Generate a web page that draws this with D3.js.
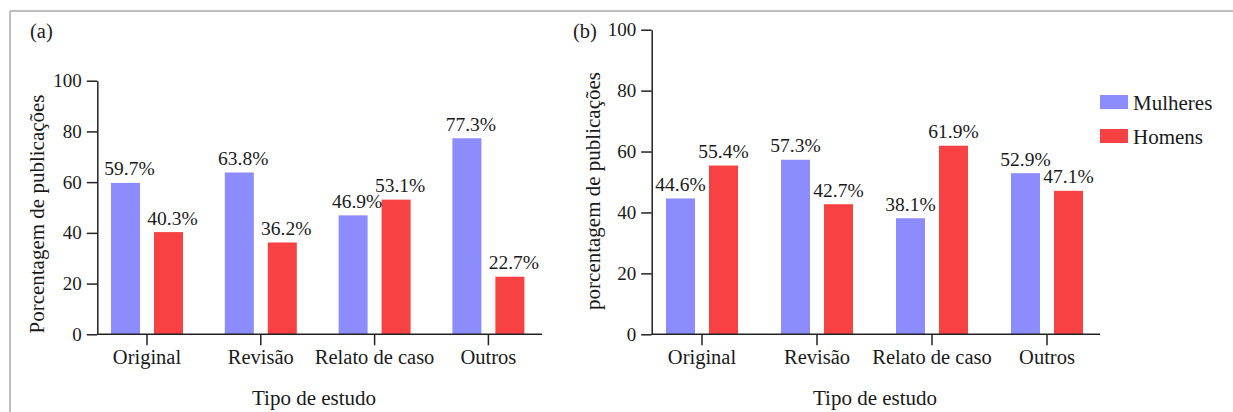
<!DOCTYPE html>
<html>
<head>
<meta charset="utf-8">
<script src="https://cdn.jsdelivr.net/npm/d3@7"></script>
<style>
  body { margin: 0; background: #fff; }
  svg { display: block; }
  svg text { font-family: 'Liberation Serif', 'DejaVu Serif', serif !important; fill: #1a1a1a; }
</style>
</head>
<body>
<svg id="chart" width="1233" height="412"></svg>
<script>
// ---- data ----
const categories = ["Original", "Revisão", "Relato de caso", "Outros"];
const seriesNames = ["Mulheres", "Homens"];
const mulheresA = [59.7, 63.8, 46.9, 77.3];
const homensA   = [40.3, 36.2, 53.1, 22.7];
const mulheresB = [44.6, 57.3, 38.1, 52.9];
const homensB   = [55.4, 42.7, 61.9, 47.1];
const yTicks = [0, 20, 40, 60, 80, 100];
const panelTags = ["(a)", "(b)"];
const yTitles = ["Porcentagem de publicações", "porcentagem de publicações"];
const xTitle = "Tipo de estudo";

const colors = { "Mulheres": "#8c8cfe", "Homens": "#f84142" };
const FONT = "'Liberation Serif', 'DejaVu Serif', serif";

const svg = d3.select("#chart").attr("font-family", FONT);

// frame
svg.append("line").attr("x1", 10).attr("x2", 1233).attr("y1", 11).attr("y2", 11)
  .attr("stroke", "#a8a8a8").attr("stroke-width", 1.5);
svg.append("line").attr("x1", 10).attr("x2", 10).attr("y1", 11).attr("y2", 412)
  .attr("stroke", "#a8a8a8").attr("stroke-width", 1.5);

const panels = [
  { tag: panelTags[0], tagX: 30, yTitle: yTitles[0], yTitleX: 44, yTitleY: 214,
    axisX: 97.3, axisEnd: 542, xRange: [90.1, 545.3], yRange: [334.3, 80.7],
    xTitleX: 314, labelDx: 4, m: mulheresA, h: homensA },
  { tag: panelTags[1], tagX: 573, yTitle: yTitles[1], yTitleX: 600, yTitleY: 191,
    axisX: 651.7, axisEnd: 1100, xRange: [644.5, 1104.5], yRange: [334.3, 29.7],
    xTitleX: 875, labelDx: 0, m: mulheresB, h: homensB }
];

panels.forEach(p => {
  const g = svg.append("g");
  const x = d3.scaleBand().domain(categories).range(p.xRange).padding(0);
  const inner = d3.scaleBand().domain(seriesNames).range([-36, 36]).paddingInner(14 / 43);
  const y = d3.scaleLinear().domain([0, 100]).range(p.yRange);

  const rows = categories.map((c, i) => ({ cat: c, vals: [
    { s: "Mulheres", v: p.m[i] }, { s: "Homens", v: p.h[i] } ] }));

  // bars
  const grp = g.selectAll("g.grp").data(rows).join("g")
    .attr("transform", d => `translate(${x(d.cat) + x.bandwidth() / 2},0)`);
  grp.selectAll("rect").data(d => d.vals).join("rect")
    .attr("x", d => inner(d.s))
    .attr("width", inner.bandwidth())
    .attr("y", d => y(d.v))
    .attr("height", d => y(0) - y(d.v))
    .attr("fill", d => colors[d.s]);
  grp.selectAll("text").data(d => d.vals).join("text")
    .attr("x", d => inner(d.s) + inner.bandwidth() / 2 + p.labelDx)
    .attr("y", d => y(d.v) - 7.5)
    .attr("text-anchor", "middle")
    .attr("font-family", FONT)
    .style("font-size", "19.5px")
    .text(d => d.v.toFixed(1) + "%");

  // y axis
  const ya = g.append("g").attr("transform", `translate(${p.axisX},0)`)
    .call(d3.axisLeft(y).tickValues(yTicks).tickSize(10.5).tickSizeOuter(0).tickPadding(5));
  ya.attr("font-family", FONT);
  ya.select(".domain").attr("stroke", "#222").attr("stroke-width", 1.5);
  ya.selectAll(".tick line").attr("stroke", "#222").attr("stroke-width", 1.5);
  ya.selectAll(".tick text").style("font-size", "19px").attr("font-family", FONT).attr("fill", "#1a1a1a");

  // x axis
  const xa = g.append("g").attr("transform", `translate(0,${y(0)})`)
    .call(d3.axisBottom(x).tickSize(11).tickSizeOuter(0).tickPadding(4.5));
  xa.attr("font-family", FONT);
  xa.select(".domain").remove();
  xa.selectAll(".tick line").attr("stroke", "#222").attr("stroke-width", 1.5);
  xa.selectAll(".tick text").style("font-size", "20.5px").attr("font-family", FONT).attr("fill", "#1a1a1a");
  g.append("line").attr("x1", p.axisX).attr("x2", p.axisEnd)
    .attr("y1", y(0)).attr("y2", y(0)).attr("stroke", "#222").attr("stroke-width", 1.5);

  // titles
  g.append("text").attr("x", p.xTitleX).attr("y", 405).attr("text-anchor", "middle")
    .attr("font-family", FONT).style("font-size", "21px").text(xTitle);
  g.append("text").attr("transform", `translate(${p.yTitleX},${p.yTitleY}) rotate(-90)`)
    .attr("text-anchor", "middle").attr("font-family", FONT).style("font-size", "21px").text(p.yTitle);
  g.append("text").attr("x", p.tagX).attr("y", 38).attr("font-family", FONT)
    .style("font-size", "20.5px").text(p.tag);
});

// legend
const lg = svg.append("g");
const legY = d3.scalePoint().domain(seriesNames).range([95, 129]);
seriesNames.forEach(s => {
  lg.append("rect").attr("x", 1100).attr("y", legY(s)).attr("width", 28).attr("height", 14)
    .attr("fill", colors[s]);
  lg.append("text").attr("x", 1133).attr("y", legY(s) + 14.5).attr("font-family", FONT)
    .style("font-size", "21px").text(s);
});
</script>
</body>
</html>
